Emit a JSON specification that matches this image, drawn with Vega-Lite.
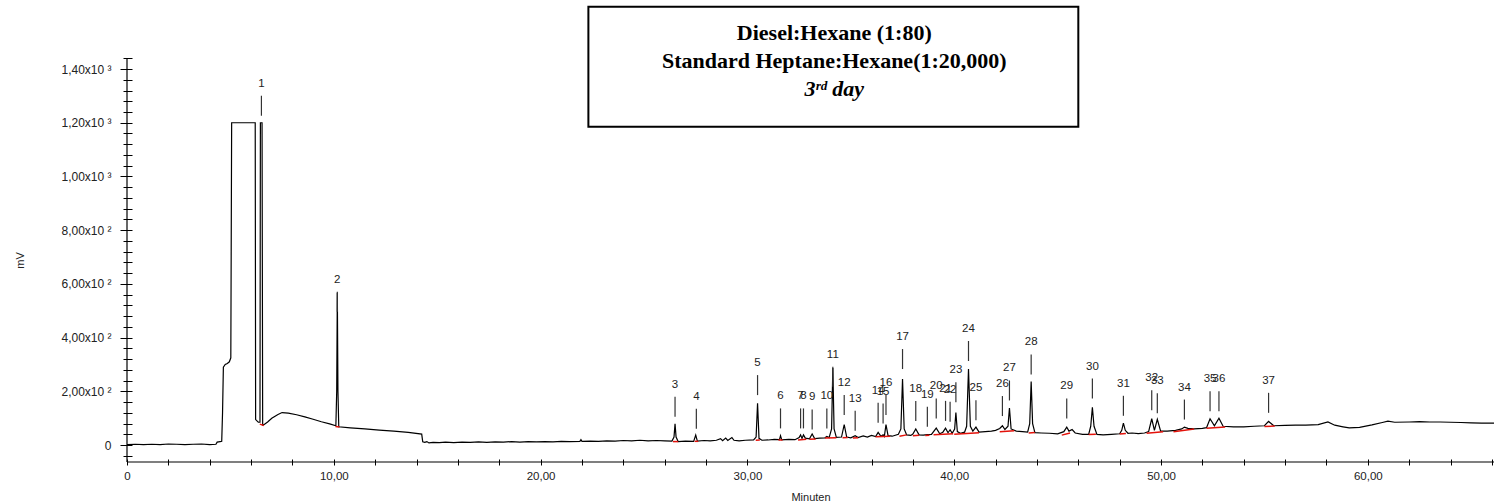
{
  "$schema": "https://vega.github.io/schema/vega-lite/v6.json",
  "width": 1367,
  "height": 404,
  "autosize": {"type": "none"},
  "padding": {"left": 127, "top": 58, "right": 0, "bottom": 40},
  "background": "white",
  "config": {
    "view": {"stroke": null},
    "axis": {"grid": false, "domain": false, "labelFont": "Liberation Sans", "titleFont": "Liberation Sans", "titleFontWeight": "normal", "labelColor": "#222", "titleColor": "#222", "tickColor": "black", "labelOverlap": false, "labelFlush": false}
  },
  "datasets": {
    "trace": [
      {"t":0,"v":2},{"t":0.4,"v":3},{"t":0.8,"v":2},{"t":1.2,"v":3},{"t":1.6,"v":2},{"t":2.0,"v":4},{"t":2.4,"v":3},{"t":2.8,"v":2},{"t":3.2,"v":3},{"t":3.6,"v":4},{"t":4.0,"v":2},{"t":4.3,"v":3},{"t":4.36,"v":11},{"t":4.5,"v":13},{"t":4.58,"v":14},{"t":4.62,"v":120},{"t":4.66,"v":290},{"t":4.75,"v":300},{"t":4.85,"v":304},{"t":4.95,"v":310},{"t":5.02,"v":325},{"t":5.06,"v":1200},{"t":6.2,"v":1200},{"t":6.22,"v":95},{"t":6.35,"v":85},{"t":6.43,"v":85},{"t":6.45,"v":1200},{"t":6.53,"v":1200},{"t":6.56,"v":75},{"t":6.62,"v":76},{"t":6.8,"v":86},{"t":7.0,"v":100},{"t":7.3,"v":114},{"t":7.5,"v":121},{"t":7.8,"v":119},{"t":8.2,"v":113},{"t":8.6,"v":105},{"t":9.0,"v":96},{"t":9.4,"v":87},{"t":9.8,"v":79},{"t":10.1,"v":72},{"t":10.14,"v":200},{"t":10.17,"v":567},{"t":10.2,"v":200},{"t":10.24,"v":68},{"t":10.8,"v":64},{"t":11.5,"v":60},{"t":12.2,"v":56},{"t":12.9,"v":52},{"t":13.6,"v":47},{"t":14.25,"v":41},{"t":14.3,"v":12},{"t":14.4,"v":10},{"t":14.5,"v":13},{"t":14.6,"v":8},{"t":14.8,"v":10},{"t":15.1,"v":9},{"t":15.4,"v":11},{"t":15.8,"v":9},{"t":16.2,"v":11},{"t":16.6,"v":10},{"t":17.0,"v":12},{"t":17.4,"v":10},{"t":17.8,"v":12},{"t":18.2,"v":11},{"t":18.6,"v":13},{"t":19.0,"v":11},{"t":19.4,"v":13},{"t":19.8,"v":12},{"t":20.2,"v":13},{"t":20.6,"v":12},{"t":21.0,"v":14},{"t":21.4,"v":13},{"t":21.9,"v":14},{"t":21.95,"v":20},{"t":22.0,"v":14},{"t":22.4,"v":15},{"t":22.8,"v":14},{"t":23.2,"v":16},{"t":23.6,"v":15},{"t":24.0,"v":17},{"t":24.4,"v":16},{"t":24.8,"v":18},{"t":25.2,"v":16},{"t":25.6,"v":17},{"t":26.0,"v":16},{"t":26.35,"v":15},{"t":26.45,"v":30},{"t":26.5,"v":79},{"t":26.55,"v":30},{"t":26.65,"v":13},{"t":27.0,"v":15},{"t":27.4,"v":14},{"t":27.5,"v":37},{"t":27.58,"v":15},{"t":27.9,"v":17},{"t":28.2,"v":16},{"t":28.5,"v":18},{"t":28.7,"v":24},{"t":28.8,"v":16},{"t":28.95,"v":26},{"t":29.05,"v":17},{"t":29.25,"v":28},{"t":29.35,"v":18},{"t":29.6,"v":16},{"t":29.9,"v":18},{"t":30.3,"v":19},{"t":30.42,"v":30},{"t":30.49,"v":156},{"t":30.56,"v":25},{"t":30.7,"v":18},{"t":31.0,"v":19},{"t":31.3,"v":21},{"t":31.55,"v":20},{"t":31.6,"v":35},{"t":31.66,"v":19},{"t":32.0,"v":21},{"t":32.3,"v":20},{"t":32.5,"v":28},{"t":32.57,"v":38},{"t":32.64,"v":25},{"t":32.71,"v":38},{"t":32.8,"v":26},{"t":33.0,"v":23},{"t":33.13,"v":41},{"t":33.25,"v":24},{"t":33.5,"v":26},{"t":33.75,"v":27},{"t":33.84,"v":32},{"t":33.95,"v":28},{"t":34.07,"v":60},{"t":34.13,"v":287},{"t":34.19,"v":60},{"t":34.3,"v":29},{"t":34.55,"v":30},{"t":34.68,"v":76},{"t":34.8,"v":30},{"t":35.0,"v":27},{"t":35.21,"v":35},{"t":35.35,"v":28},{"t":35.6,"v":34},{"t":35.8,"v":30},{"t":36.0,"v":36},{"t":36.2,"v":32},{"t":36.32,"v":47},{"t":36.45,"v":33},{"t":36.56,"v":38},{"t":36.62,"v":32},{"t":36.7,"v":76},{"t":36.8,"v":35},{"t":37.0,"v":33},{"t":37.3,"v":40},{"t":37.42,"v":60},{"t":37.5,"v":246},{"t":37.58,"v":60},{"t":37.7,"v":38},{"t":37.9,"v":36},{"t":38.0,"v":41},{"t":38.14,"v":60},{"t":38.3,"v":38},{"t":38.5,"v":37},{"t":38.7,"v":39},{"t":38.9,"v":40},{"t":39.13,"v":63},{"t":39.3,"v":42},{"t":39.45,"v":48},{"t":39.58,"v":63},{"t":39.7,"v":46},{"t":39.8,"v":57},{"t":39.9,"v":44},{"t":40.02,"v":60},{"t":40.08,"v":121},{"t":40.15,"v":50},{"t":40.3,"v":44},{"t":40.5,"v":48},{"t":40.6,"v":70},{"t":40.69,"v":283},{"t":40.78,"v":70},{"t":40.9,"v":52},{"t":41.05,"v":67},{"t":41.2,"v":48},{"t":41.5,"v":50},{"t":41.8,"v":52},{"t":42.0,"v":55},{"t":42.2,"v":62},{"t":42.33,"v":72},{"t":42.45,"v":58},{"t":42.6,"v":70},{"t":42.67,"v":138},{"t":42.75,"v":60},{"t":43.0,"v":52},{"t":43.3,"v":50},{"t":43.55,"v":48},{"t":43.65,"v":80},{"t":43.72,"v":237},{"t":43.79,"v":80},{"t":43.9,"v":46},{"t":44.2,"v":45},{"t":44.6,"v":44},{"t":45.0,"v":42},{"t":45.3,"v":50},{"t":45.44,"v":67},{"t":45.55,"v":52},{"t":45.7,"v":58},{"t":45.85,"v":45},{"t":46.2,"v":40},{"t":46.5,"v":40},{"t":46.6,"v":70},{"t":46.68,"v":141},{"t":46.76,"v":70},{"t":46.9,"v":40},{"t":47.2,"v":38},{"t":47.6,"v":40},{"t":48.0,"v":42},{"t":48.1,"v":55},{"t":48.18,"v":82},{"t":48.27,"v":55},{"t":48.4,"v":44},{"t":48.6,"v":45},{"t":48.9,"v":43},{"t":49.2,"v":45},{"t":49.4,"v":50},{"t":49.55,"v":98},{"t":49.68,"v":55},{"t":49.82,"v":96},{"t":49.98,"v":52},{"t":50.3,"v":52},{"t":50.7,"v":55},{"t":51.0,"v":60},{"t":51.13,"v":67},{"t":51.3,"v":62},{"t":51.6,"v":60},{"t":52.0,"v":62},{"t":52.2,"v":65},{"t":52.37,"v":98},{"t":52.58,"v":72},{"t":52.8,"v":100},{"t":53.0,"v":70},{"t":53.5,"v":68},{"t":54.0,"v":68},{"t":54.5,"v":70},{"t":55.0,"v":72},{"t":55.2,"v":88},{"t":55.45,"v":72},{"t":56.0,"v":73},{"t":56.5,"v":74},{"t":57.0,"v":74},{"t":57.6,"v":76},{"t":58.07,"v":86},{"t":58.4,"v":74},{"t":58.8,"v":68},{"t":59.1,"v":64},{"t":59.6,"v":66},{"t":60.2,"v":75},{"t":60.7,"v":84},{"t":60.97,"v":89},{"t":61.3,"v":85},{"t":62.0,"v":86},{"t":62.5,"v":87},{"t":63.0,"v":86},{"t":63.5,"v":86},{"t":64.0,"v":85},{"t":64.5,"v":84},{"t":65.0,"v":83},{"t":65.5,"v":82},{"t":66.1,"v":82}
    ],
    "base": [
      {"s":"1","t":6.42,"v":78},{"s":"1","t":6.62,"v":73},
      {"s":"2","t":10.08,"v":69},{"s":"2","t":10.28,"v":67},
      {"s":"3","t":26.4,"v":13},{"s":"3","t":26.65,"v":13},
      {"s":"4","t":27.45,"v":14},{"s":"4","t":27.62,"v":14},
      {"s":"5","t":30.4,"v":18},{"s":"5","t":30.6,"v":19},
      {"s":"6","t":31.5,"v":19},{"s":"6","t":31.7,"v":19},
      {"s":"7","t":32.45,"v":19},{"s":"7","t":32.85,"v":22},
      {"s":"9","t":33.0,"v":22},{"s":"9","t":33.3,"v":23},
      {"s":"10","t":33.75,"v":26},{"s":"10","t":34.3,"v":27},
      {"s":"12","t":34.6,"v":27},{"s":"12","t":34.85,"v":28},
      {"s":"13","t":35.1,"v":26},{"s":"13","t":35.35,"v":27},
      {"s":"14","t":36.2,"v":31},{"s":"14","t":36.9,"v":33},
      {"s":"17","t":37.35,"v":33},{"s":"17","t":37.7,"v":38},
      {"s":"18","t":38.0,"v":35},{"s":"18","t":38.3,"v":37},
      {"s":"19","t":38.6,"v":36},{"s":"19","t":38.8,"v":37},
      {"s":"20","t":39.0,"v":38},{"s":"20","t":39.95,"v":42},
      {"s":"23","t":40.0,"v":40},{"s":"23","t":41.2,"v":46},
      {"s":"26","t":42.2,"v":50},{"s":"26","t":42.9,"v":53},
      {"s":"28","t":43.6,"v":45},{"s":"28","t":43.9,"v":47},
      {"s":"29","t":45.2,"v":37},{"s":"29","t":45.6,"v":45},
      {"s":"30","t":46.5,"v":39},{"s":"30","t":46.85,"v":40},
      {"s":"31","t":48.0,"v":41},{"s":"31","t":48.3,"v":43},
      {"s":"32","t":49.3,"v":44},{"s":"32","t":50.1,"v":50},
      {"s":"34","t":50.6,"v":50},{"s":"34","t":51.6,"v":60},
      {"s":"35","t":52.2,"v":63},{"s":"35","t":53.1,"v":67},
      {"s":"37","t":55.0,"v":69},{"s":"37","t":55.5,"v":71}
    ],
    "peaks": [
      {"n":"1","t":6.5,"h":1200},{"n":"2","t":10.17,"h":470},{"n":"3","t":26.5,"h":79},{"n":"4","t":27.53,"h":35},{"n":"5","t":30.49,"h":160},{"n":"6","t":31.6,"h":36},{"n":"7","t":32.57,"h":36},{"n":"8","t":32.71,"h":36},{"n":"9","t":33.13,"h":32},{"n":"10","t":33.84,"h":36},{"n":"11","t":34.13,"h":191},{"n":"12","t":34.68,"h":86},{"n":"13","t":35.21,"h":27},{"n":"14","t":36.32,"h":57},{"n":"15","t":36.56,"h":54},{"n":"16","t":36.7,"h":86},{"n":"17","t":37.5,"h":257},{"n":"18","t":38.14,"h":64},{"n":"19","t":38.7,"h":42},{"n":"20","t":39.13,"h":73},{"n":"21","t":39.58,"h":64},{"n":"22","t":39.8,"h":61},{"n":"23","t":40.08,"h":133},{"n":"24","t":40.69,"h":287},{"n":"25","t":41.05,"h":66},{"n":"26","t":42.33,"h":82},{"n":"27","t":42.67,"h":140},{"n":"28","t":43.72,"h":237},{"n":"29","t":45.44,"h":73},{"n":"30","t":46.68,"h":147},{"n":"31","t":48.18,"h":83},{"n":"32","t":49.55,"h":104},{"n":"33","t":49.82,"h":92},{"n":"34","t":51.13,"h":69},{"n":"35","t":52.37,"h":100},{"n":"36","t":52.8,"h":100},{"n":"37","t":55.2,"h":94}
    ],
    "one": [{}]
  },
  "layer": [
    {
      "data": {"name": "trace"},
      "mark": {"type": "line", "color": "black", "strokeWidth": 1.2},
      "encoding": {
        "x": {"field": "t", "type": "quantitative", "title": "Minuten",
          "scale": {"domain": [0, 66.1], "nice": false, "zero": false},
          "axis": {"values": [0,2,4,6,8,10,12,14,16,18,20,22,24,26,28,30,32,34,36,38,40,42,44,46,48,50,52,54,56,58,60,62,64,66],
            "tickCount": 200, "offset": -3, "tickSize": 6, "labelPadding": 5, "labelFontSize": 11.5, "titleFontSize": 11, "titlePadding": 10,
            "labelOverlap": false, "labelFlush": false,
            "labelExpr": "datum.value == 0 ? '0' : (datum.value % 10 == 0 ? replace(format(datum.value, '.2f'), '.', ',') : '')"}},
        "y": {"field": "v", "type": "quantitative", "title": "mV",
          "scale": {"domain": [-63, 1441], "nice": false, "zero": false},
          "axis": {"values": [-40,0,40,80,120,160,200,240,280,320,360,400,440,480,520,560,600,640,680,720,760,800,840,880,920,960,1000,1040,1080,1120,1160,1200,1240,1280,1320,1360,1400,1440],
            "tickCount": 200, "offset": -5, "tickSize": {"condition": {"test": "datum.value % 200 == 0", "value": 12}, "value": 9},
            "labelPadding": 9, "labelFontSize": 12, "titleFontSize": 11, "titlePadding": 35,
            "labelOverlap": false, "labelFlush": false,
            "labelExpr": "datum.value == 0 ? '0' : (datum.value % 200 != 0 ? '' : (datum.value >= 1000 ? replace(format(datum.value / 1000, '.2f'), '.', ',') + 'x10 ³' : replace(format(datum.value / 100, '.2f'), '.', ',') + 'x10 ²'))"}}
      }
    },
    {
      "data": {"name": "base"},
      "mark": {"type": "line", "color": "#e3120b", "strokeWidth": 1.5},
      "encoding": {
        "x": {"field": "t", "type": "quantitative", "title": "Minuten"},
        "y": {"field": "v", "type": "quantitative", "title": "mV"},
        "detail": {"field": "s"}
      }
    },
    {
      "data": {"name": "peaks"},
      "mark": {"type": "rule", "color": "#333", "strokeWidth": 1.2, "yOffset": -7, "y2Offset": -27},
      "encoding": {
        "x": {"field": "t", "type": "quantitative", "title": "Minuten"},
        "y": {"field": "h", "type": "quantitative", "title": "mV"},
        "y2": {"field": "h"}
      }
    },
    {
      "data": {"name": "peaks"},
      "mark": {"type": "text", "dy": -39, "font": "Liberation Sans", "fontSize": 11.5, "color": "#222"},
      "encoding": {
        "x": {"field": "t", "type": "quantitative", "title": "Minuten"},
        "y": {"field": "h", "type": "quantitative", "title": "mV"},
        "text": {"field": "n"}
      }
    },
    {
      "data": {"name": "one"},
      "mark": {"type": "rule", "color": "black", "strokeWidth": 1.2},
      "encoding": {"x": {"datum": 0, "type": "quantitative", "title": "Minuten"}}
    },
    {
      "data": {"name": "one"},
      "mark": {"type": "rule", "color": "black", "strokeWidth": 1.2},
      "encoding": {"y": {"datum": -63, "type": "quantitative", "title": "mV"}}
    },
    {
      "data": {"name": "one"},
      "mark": {"type": "rect", "fill": null, "stroke": "black", "strokeWidth": 2},
      "encoding": {
        "x": {"datum": 22.31, "type": "quantitative", "title": "Minuten"},
        "x2": {"datum": 46.0},
        "y": {"datum": 1185, "type": "quantitative", "title": "mV"},
        "y2": {"datum": 1632}
      }
    },
    {
      "data": {"name": "one"},
      "mark": {"type": "text", "font": "Liberation Serif", "fontWeight": "bold", "fontSize": 22, "baseline": "alphabetic", "align": "center", "lineHeight": 28, "color": "black",
        "text": ["Diesel:Hexane (1:80)", "Standard Heptane:Hexane(1:20,000)"]},
      "encoding": {
        "x": {"datum": 34.2, "type": "quantitative", "title": "Minuten"},
        "y": {"datum": 1509, "type": "quantitative", "title": "mV"}
      }
    },
    {
      "data": {"name": "one"},
      "mark": {"type": "text", "font": "Liberation Serif", "fontWeight": "bold", "fontStyle": "italic", "fontSize": 22, "baseline": "alphabetic", "align": "center", "color": "black",
        "text": "3ʳᵈ day"},
      "encoding": {
        "x": {"datum": 34.2, "type": "quantitative", "title": "Minuten"},
        "y": {"datum": 1298, "type": "quantitative", "title": "mV"}
      }
    }
  ]
}
